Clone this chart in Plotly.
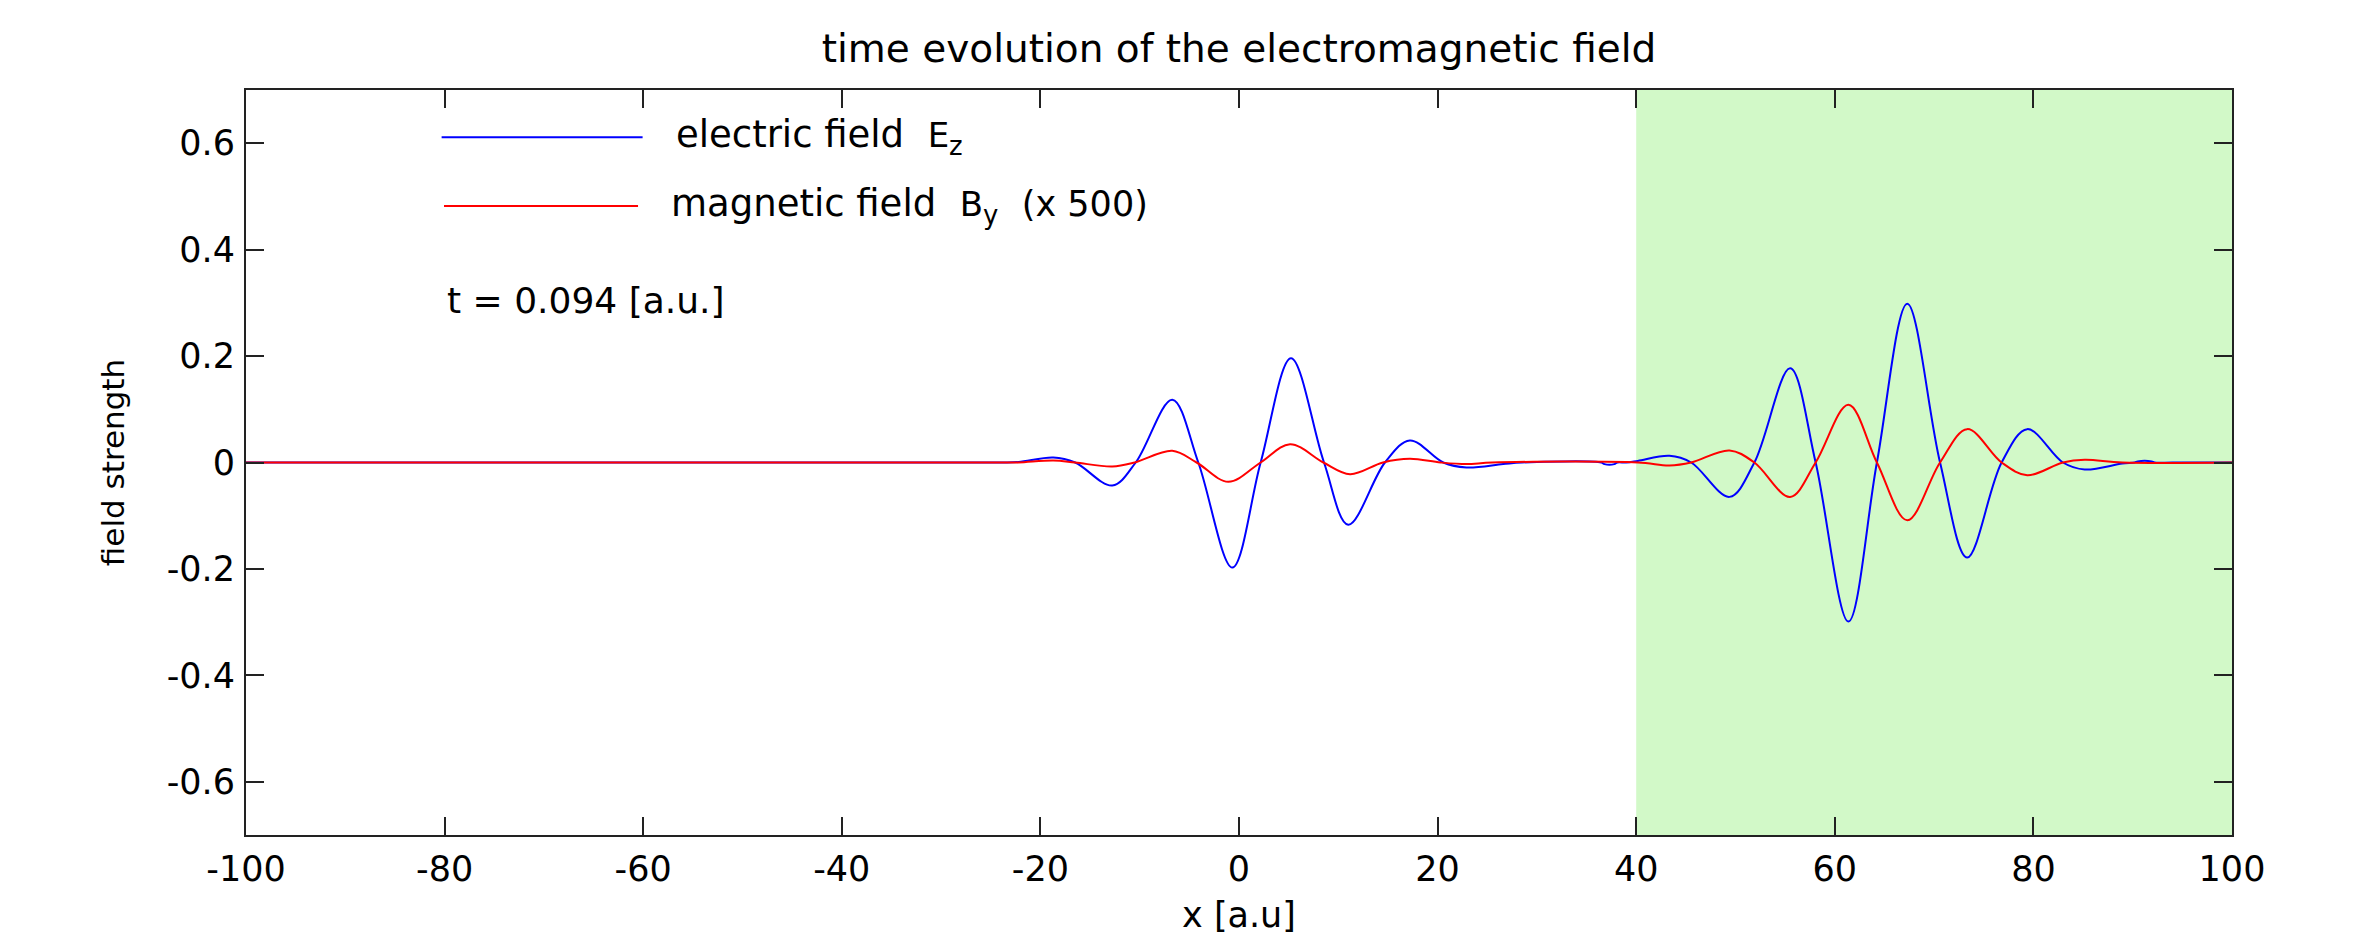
import plotly.graph_objects as go

# ---- data ----
x_range = [-100, 100]
y_range = [-0.7, 0.7]
x_ticks = [-100, -80, -60, -40, -20, 0, 20, 40, 60, 80, 100]
x_ticktext = ["-100", "-80", "-60", "-40", "-20", "0", "20", "40", "60", "80", "100"]
y_ticks = [-0.6, -0.4, -0.2, 0, 0.2, 0.4, 0.6]
y_ticktext = ["-0.6", "-0.4", "-0.2", "0", "0.2", "0.4", "0.6"]

# electric field E_z
ez_x = [-100, -24, -22.2, -18.7, -16.5, -12.76, -10.4, -6.72, -4.1, -0.67, 2.18, 5.24,
        8.56, 11.0, 14.7, 17.2, 20.57, 22.9, 26.6, 28.5, 36.5, 36.8, 37.8, 38.1, 39.0,
        40.16, 43.35, 45.54, 49.4, 51.9, 55.5, 58.07, 61.37, 64.24, 67.3, 70.6, 73.33,
        76.8, 79.38, 82.97, 85.16, 88.95, 90.2, 90.5, 91.9, 92.2, 94, 100]
ez_y = [0, 0, 0.001, 0.0094, 0, -0.0433, 0, 0.118, 0, -0.1975, 0, 0.196,
        0, -0.117, 0, 0.0414, 0, -0.0094, -0.003, 0, 0, -0.003, -0.003, 0, 0,
        0.003, 0.0125, 0, -0.0646, 0, 0.177, 0, -0.299, 0, 0.2985, 0, -0.1787,
        0, 0.0627, 0, -0.0132, -0.002, 0, 0.002, 0.002, 0, 0, 0]

# magnetic field B_y (shown multiplied by 500)
by500_x = [-100, -24, -22.2, -18.7, -16.5, -12.76, -10.5, -6.72, -4.27, -1.08, 2.18, 5.14,
           8.5, 11.18, 14.5, 17.2, 20.3, 22.9, 25.5, 40.16, 43.35, 45.54, 49.4, 51.9,
           55.5, 58.07, 61.37, 64.24, 67.3, 70.6, 73.33, 76.8, 79.38, 82.97, 85.16,
           88.95, 100]
by500_y = [0, 0, 0, 0.0038, 0, -0.0075, 0, 0.0219, 0, -0.0363, 0, 0.0345,
           0, -0.0219, 0, 0.0069, 0, -0.003, 0, 0, -0.0056, 0, 0.0226, 0,
           -0.0646, 0, 0.1085, 0, -0.1085, 0, 0.0627, 0, -0.0238, 0, 0.005,
           0, 0]

region_x = [40, 100]   # shaded (green) region
time_label = "t = 0.094 [a.u.]"

FONT = "DejaVu Sans"
FS = 35
AX = "#222222"

fig = go.Figure()
fig.add_trace(go.Scatter(x=ez_x, y=ez_y, mode="lines", name="electric field Ez",
                         line=dict(color="#0000ff", width=2, shape="spline", smoothing=1),
                         showlegend=False))
fig.add_trace(go.Scatter(x=by500_x, y=by500_y, mode="lines", name="magnetic field By (x 500)",
                         line=dict(color="#ff0000", width=2, shape="spline", smoothing=1),
                         showlegend=False))

fig.add_shape(type="rect", xref="x", yref="paper", x0=region_x[0], x1=region_x[1],
              y0=0, y1=1, fillcolor="#d2f9c8", line_width=0, layer="below")

# hand-made legend
fig.add_shape(type="line", xref="paper", yref="paper", x0=0.0985, x1=0.1997,
              y0=0.9365, y1=0.9365, line=dict(color="#0000ff", width=2))
fig.add_shape(type="line", xref="paper", yref="paper", x0=0.0997, x1=0.1974,
              y0=0.8443, y1=0.8443, line=dict(color="#ff0000", width=2))
fig.add_annotation(xref="paper", yref="paper", x=0.2155, y=0.9365, xanchor="left",
                   yanchor="middle", showarrow=False,
                   text="electric field&nbsp; <span style='font-size:34px'>E</span><sub>z</sub>",
                   font=dict(family=FONT, size=37, color="black"))
fig.add_annotation(xref="paper", yref="paper", x=0.213, y=0.8443, xanchor="left",
                   yanchor="middle", showarrow=False,
                   text="magnetic field&nbsp; <span style='font-size:34px'>B</span><sub>y</sub>&nbsp; "
                        "<span style='font-size:35px'>(x 500)</span>",
                   font=dict(family=FONT, size=37, color="black"))
fig.add_annotation(xref="paper", yref="paper", x=0.1002, y=0.7168, xanchor="left",
                   yanchor="middle", showarrow=False, text=time_label,
                   font=dict(family=FONT, size=36, color="black"))

axis_common = dict(showline=True, linewidth=2, linecolor=AX, mirror="ticks",
                   ticks="inside", ticklen=18, tickwidth=2, tickcolor=AX,
                   showgrid=False, zeroline=False, automargin=False,
                   tickfont=dict(family=FONT, size=FS, color="black"))

fig.update_layout(
    width=2354, height=937,
    margin=dict(l=246, r=122, t=90, b=102),
    paper_bgcolor="white", plot_bgcolor="white",
    title=dict(text="time evolution of the electromagnetic field",
               x=0.5, xref="paper", xanchor="center",
               y=1 - 48 / 937, yref="container", yanchor="middle",
               font=dict(family=FONT, size=39, color="black")),
    xaxis=dict(range=x_range, tickvals=x_ticks, ticktext=x_ticktext, ticklabelstandoff=2,
               title=dict(text="x [a.u]", standoff=14,
                          font=dict(family=FONT, size=FS, color="black")),
               **axis_common),
    yaxis=dict(range=y_range, tickvals=y_ticks, ticktext=y_ticktext,
               ticklabelstandoff=2,
               title=dict(text="field strength", standoff=33,
                          font=dict(family=FONT, size=31, color="black")),
               **axis_common),
)

fig.write_html("out.html", config={"displayModeBar": False},
               post_script="document.body.style.margin='0';")
